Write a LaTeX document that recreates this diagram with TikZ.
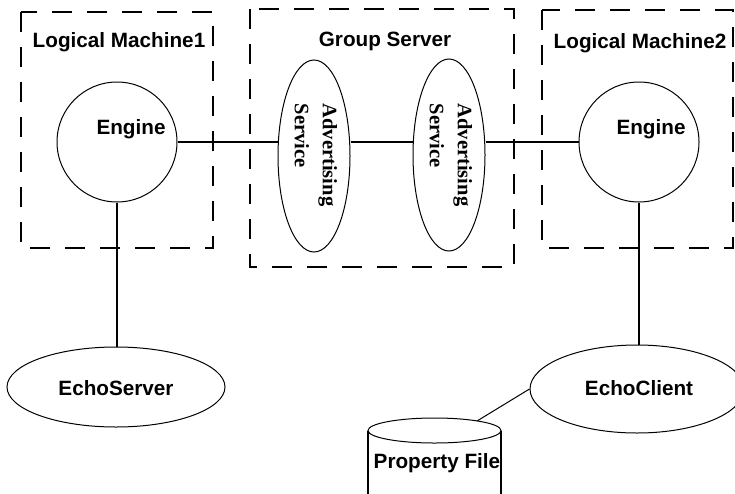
\documentclass[tikz,border=0pt]{standalone}
\usepackage{fontspec}
\setmainfont{Liberation Serif}
\newfontfamily\lsans{Liberation Sans}
\usetikzlibrary{shapes.geometric}
\begin{document}
\begin{tikzpicture}[x=1pt,y=-1pt,
  boxdash/.style={draw, line width=2pt, dash pattern=on 20pt off 15pt},
  conn/.style={draw, line width=1.6pt},
  shapeline/.style={draw, line width=1pt},
  lbl/.style={font=\lsans\fontsize{20.7}{24}\selectfont\bfseries, inner sep=0pt},
  advtext/.style={font=\fontsize{20.5}{28}\selectfont\bfseries, align=left, rotate=-90, inner sep=0pt},
  circ/.style={shapeline, circle, minimum size=120pt, inner sep=0pt},
  ell/.style={shapeline, ellipse, inner sep=0pt}]
\useasboundingbox (0,0) rectangle (735,493);
% boxes
\draw[boxdash] (21,12) rectangle (213,248);
\draw[boxdash] (250,9) rectangle (514,267);
\draw[boxdash] (542,10) rectangle (733,248);
\node[lbl] (lm1) at (119,42) {Logical Machine1};
\node[lbl] (gs) at (385,41) {Group Server};
\node[lbl] (lm2) at (640,43) {Logical Machine2};
% engines
\node[circ] (eng1) at (117,142) {};
\node[lbl] (eng1t) at (131,129) {Engine};
\node[circ] (eng2) at (639,142) {};
\node[lbl] (eng2t) at (651,129) {Engine};
% advertising services
\node[ell, minimum width=72pt, minimum height=192pt] (adv1) at (314,156) {};
\node[advtext] (adv1t) at (316,155) {Advertising\\Service};
\node[ell, minimum width=72pt, minimum height=192pt] (adv2) at (449,155) {};
\node[advtext] (adv2t) at (451,155) {Advertising\\Service};
% echo
\node[ell, minimum width=218pt, minimum height=80pt] (es) at (116,387) {};
\node[lbl] (est) at (116,388) {EchoServer};
\node[ell, minimum width=214pt, minimum height=88pt] (ec) at (637,389) {};
\node[lbl] (ect) at (639,388) {EchoClient};
% property file cylinder
\draw[shapeline] (434.5,430.5) ellipse [x radius=66.5, y radius=12.5];
\draw[line width=1.6pt] (368,430.5) -- (368,500);
\draw[line width=1.6pt] (501,430.5) -- (501,500);
\coordinate (pftop) at (477,421);
\node[lbl] (pf) at (437,463) {Property File};
% connectors
\draw[conn] (eng1.east) -- (eng1.east -| adv1.west);
\draw[conn] (adv1.east |- eng1.east) -- (adv2.west |- eng1.east);
\draw[conn] (adv2.east |- eng2.west) -- (eng2.west);
\draw[conn] (eng1.south) -- (eng1.south |- es.north);
\draw[conn] (eng2.south) -- (eng2.south |- ec.north);
\draw[line width=1pt] (pftop) -- (ec.west);
\end{tikzpicture}
\end{document}
